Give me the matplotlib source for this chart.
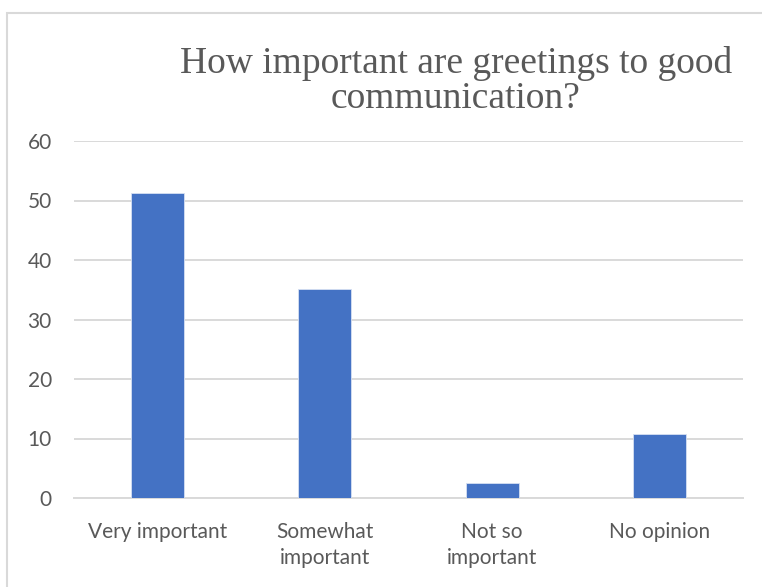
import matplotlib.pyplot as plt
from matplotlib.patches import Rectangle

categories = ['Very important', 'Somewhat\nimportant', 'Not so\nimportant', 'No opinion']
values = [51.2, 35.1, 2.6, 10.8]
yticks = [0, 10, 20, 30, 40, 50, 60]

fig = plt.figure(figsize=(7.62, 5.87), dpi=100)
ax = fig.add_axes([74 / 762, 1 - 498 / 587, 669 / 762, 357 / 587])

x = range(len(categories))
ax.bar(x, values, width=0.317, color='#4472C4', edgecolor='#D6E0F2', linewidth=0.6, zorder=3)
ax.set_xlim(-0.5, 3.5)
ax.set_ylim(0, 60)
ax.set_yticks(yticks)
ax.set_xticks(list(x))
ax.set_xticklabels(categories, family='Lato', fontsize=15, color='#595959', linespacing=1.4)
for t in ax.get_yticklabels():
    t.set_family('Lato')
    t.set_fontsize(15)
    t.set_color('#595959')
ax.tick_params(length=0)
ax.tick_params(axis='x', pad=17)
ax.tick_params(axis='y', pad=16)
ax.grid(axis='y', color='#D9D9D9', linewidth=1.4, zorder=0)
for s in ['top', 'right', 'left']:
    ax.spines[s].set_visible(False)
ax.spines['bottom'].set_color('#D9D9D9')
ax.spines['bottom'].set_linewidth(1.4)

fig.text(456 / 762, 1 - 81 / 587, 'How important are greetings to good\ncommunication?',
         ha='center', va='center', family='Liberation Serif', fontsize=27,
         color='#595959', linespacing=1.05)

fig.patches.append(Rectangle((7 / 762, -0.1), 1.2, 1 - 13 / 587 + 0.1,
                             transform=fig.transFigure, fill=False,
                             edgecolor='#D9D9D9', linewidth=1.5))

fig.savefig('out.png')
